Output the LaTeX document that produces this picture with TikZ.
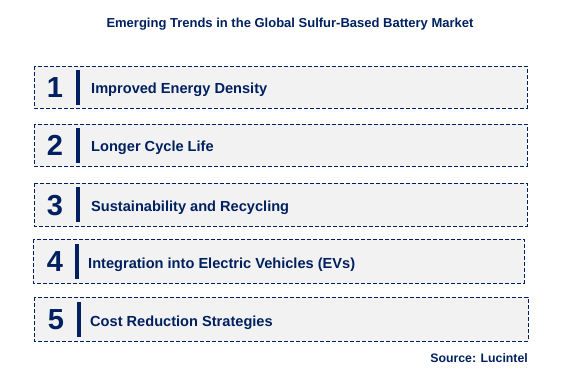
\documentclass[tikz,border=0pt]{standalone}
\usepackage{fontspec}
\setmainfont{Liberation Sans}
\definecolor{navy}{HTML}{002060}
\definecolor{boxfill}{HTML}{F2F2F2}
\begin{document}
\begin{tikzpicture}[x=1pt,y=-1pt,
  trendbox/.style={draw=navy,fill=boxfill,line width=0.9pt,dash pattern=on 4pt off 2pt},
  numtext/.style={text=navy,font=\fontsize{29}{31}\selectfont\bfseries,inner sep=0pt,anchor=base},
  itemtext/.style={text=navy,font=\fontsize{14.6}{16}\selectfont\bfseries,anchor=base west,inner sep=0pt},
  sepbar/.style={draw=navy,line width=3.5pt}]
\useasboundingbox (0,0) rectangle (572,379);
\node[text=navy,font=\fontsize{13}{15}\selectfont\bfseries,anchor=base,inner sep=0pt] (title) at (290,28) {Emerging Trends in the Global Sulfur-Based Battery Market};
% box 1
\path[trendbox] (34,66) rectangle (527,108);
\node[numtext] (n1) at (55,98) {1};
\draw[sepbar] (78,70) -- (78,105);
\node[itemtext] (t1) at (91,94) {Improved Energy Density};
% box 2
\path[trendbox] (34,124) rectangle (527,166);
\node[numtext] (n2) at (55,156) {2};
\draw[sepbar] (78,128) -- (78,163);
\node[itemtext] (t2) at (91,152) {Longer Cycle Life};
% box 3
\path[trendbox] (34,183) rectangle (527,226);
\node[numtext] (n3) at (55,215) {3};
\draw[sepbar] (78,187) -- (78,222);
\node[itemtext] (t3) at (91,211.5) {Sustainability and Recycling};
% box 4
\path[trendbox] (33,239) rectangle (524,283);
\node[numtext] (n4) at (55,271.5) {4};
\draw[sepbar] (77,244) -- (77,279);
\node[itemtext] (t4) at (88,268) {Integration into Electric Vehicles (EVs)};
% box 5
\path[trendbox] (34,297) rectangle (528,341);
\node[numtext] (n5) at (56,329.5) {5};
\draw[sepbar] (79,302) -- (79,337);
\node[itemtext] (t5) at (90,326) {Cost Reduction Strategies};
\node[text=navy,font=\fontsize{12.3}{14}\selectfont\bfseries,anchor=base east,inner sep=0pt] (src) at (528,362.5) {Source: Lucintel};
\end{tikzpicture}
\end{document}
